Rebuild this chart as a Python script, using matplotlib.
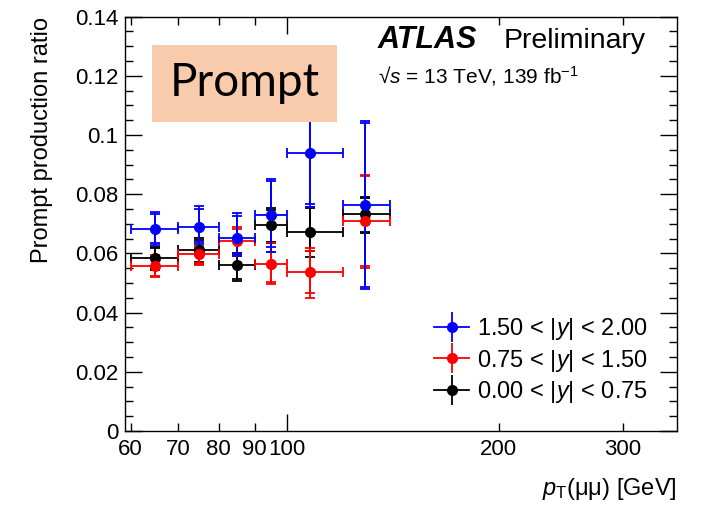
"""
plot.py
Prompt production ratio vs pT(mumu) for three rapidity slices (ATLAS style).
"""

import matplotlib
matplotlib.use("Agg")
import matplotlib.pyplot as plt
from matplotlib.lines import Line2D
from matplotlib.patches import Rectangle
from matplotlib.ticker import FixedLocator, FixedFormatter, MultipleLocator, FuncFormatter

plt.rcParams["font.family"] = ["Liberation Sans", "DejaVu Sans"]
plt.rcParams["mathtext.fontset"] = "custom"
plt.rcParams["mathtext.rm"] = "Liberation Sans"
plt.rcParams["mathtext.it"] = "Liberation Sans:italic"
plt.rcParams["mathtext.bf"] = "Liberation Sans:bold"

# pT bins (GeV)
bin_lo = [60, 70, 80, 90, 100, 120]
bin_hi = [70, 80, 90, 100, 120, 140]
bin_x  = [65, 75, 85, 95, 108, 129]

# 1.50 < |y| < 2.00
blue_val     = [0.0682, 0.0688, 0.0651, 0.0730, 0.0940, 0.0764]
blue_top     = [0.0739, 0.0761, 0.0737, 0.0853, 0.1120, 0.1047]
blue_bot     = [0.0628, 0.0632, 0.0590, 0.0606, 0.0756, 0.0479]
blue_top_in  = [0.0733, 0.0749, 0.0726, 0.0845, 0.1100, 0.1040]
blue_bot_in  = [0.0634, 0.0640, 0.0598, 0.0623, 0.0766, 0.0486]

# 0.75 < |y| < 1.50
red_val      = [0.0556, 0.0597, 0.0643, 0.0564, 0.0536, 0.0709]
red_top      = [0.0595, 0.0625, 0.0690, 0.0634, 0.0617, 0.0865]
red_bot      = [0.0519, 0.0562, 0.0590, 0.0497, 0.0448, 0.0551]
red_top_in   = [0.0590, 0.0620, 0.0684, 0.0606, 0.0609, 0.0860]
red_bot_in   = [0.0525, 0.0568, 0.0596, 0.0503, 0.0465, 0.0556]

# 0.00 < |y| < 0.75
black_val    = [0.0583, 0.0613, 0.0560, 0.0695, 0.0671, 0.0732]
black_top    = [0.0622, 0.0652, 0.0600, 0.0752, 0.0756, 0.0792]
black_bot    = [0.0545, 0.0565, 0.0507, 0.0634, 0.0589, 0.0668]
black_top_in = [0.0618, 0.0646, 0.0594, 0.0746, 0.0752, 0.0788]
black_bot_in = [0.0550, 0.0572, 0.0512, 0.0640, 0.0609, 0.0672]

x_ticks_minor = [60, 70, 80, 90, 200, 300]
x_labels_minor = ["60", "70", "80", "90", "200", "300"]

SERIES = [
    ("black", black_val, black_top, black_bot, black_top_in, black_bot_in,
     "0.00 < |$\\it{y}$| < 0.75"),
    ("red", red_val, red_top, red_bot, red_top_in, red_bot_in,
     "0.75 < |$\\it{y}$| < 1.50"),
    ("blue", blue_val, blue_top, blue_bot, blue_top_in, blue_bot_in,
     "1.50 < |$\\it{y}$| < 2.00"),
]

fig = plt.figure(figsize=(7.07, 5.05), dpi=100)
ax = fig.add_axes([0.1775, 0.1465, 0.7801, 0.8205])

xerr = [[c - lo for c, lo in zip(bin_x, bin_lo)],
        [hi - c for c, hi in zip(bin_x, bin_hi)]]

handles, labels = [], []
for col, val, top, bot, top_in, bot_in, lab in SERIES:
    yerr = [[v - b for v, b in zip(val, bot)], [t - v for v, t in zip(val, top)]]
    yerr_in = [[v - b for v, b in zip(val, bot_in)],
               [t - v for v, t in zip(val, top_in)]]
    ax.errorbar(bin_x, val, xerr=xerr, yerr=yerr, fmt="o", color=col,
                ms=7, lw=1.3, capsize=3.5, capthick=1.3)
    ax.errorbar(bin_x, val, yerr=yerr_in, fmt="none", ecolor=col,
                lw=1.3, capsize=3.5, capthick=1.3)
    # legend marker: cross of error lines without caps
    handles.insert(0, (Line2D([], [], color=col, lw=1.3),
                       Line2D([], [], color=col, marker="|", ms=21, mew=1.3, ls="none"),
                       Line2D([], [], color=col, marker="o", ms=7, ls="none")))
    labels.insert(0, lab)

ax.set_xscale("log")
ax.set_xlim(59, 358)
ax.set_ylim(0, 0.14)

ax.xaxis.set_major_locator(FixedLocator([100]))
ax.xaxis.set_major_formatter(FixedFormatter(["100"]))
ax.xaxis.set_minor_locator(FixedLocator(x_ticks_minor))
ax.xaxis.set_minor_formatter(FixedFormatter(x_labels_minor))
ax.yaxis.set_major_locator(MultipleLocator(0.02))
ax.yaxis.set_minor_locator(MultipleLocator(0.005))
ax.yaxis.set_major_formatter(FuncFormatter(lambda v, p: f"{v:g}"))

ax.tick_params(which="both", direction="in", top=True, right=True,
               labelsize=16, width=1)
ax.tick_params(which="major", length=12)
ax.tick_params(which="minor", length=6)
ax.tick_params(axis="x", which="both", pad=6)
ax.tick_params(axis="y", which="both", pad=5)
for s in ax.spines.values():
    s.set_linewidth(1)

ax.set_ylabel("Prompt production ratio", fontsize=17, loc="top", labelpad=16)
ax.set_xlabel("$\\it{p}_{\\rm T}$(\u03bc\u03bc) [GeV]", fontsize=17,
              loc="right", labelpad=11)

ax.legend(handles, labels, loc="lower right", bbox_to_anchor=(0.985, 0.012),
          frameon=False, fontsize=17, handlelength=1.5, handletextpad=0.3,
          labelspacing=0.22)

fig.text(0.534, 0.905, "ATLAS", fontsize=22, fontweight="bold",
         fontstyle="italic", ha="left", va="baseline")
fig.text(0.713, 0.905, "Preliminary", fontsize=20.5, ha="left", va="baseline")
fig.text(0.534, 0.836, "\u221a$\\it{s}$ = 13 TeV, 139 fb$^{-1}$",
         fontsize=15, ha="left", va="baseline")

# pasted "Prompt" label box
fig.patches.append(Rectangle((0.215, 0.7584), 0.2617, 0.1525,
                             transform=fig.transFigure, facecolor="#f8cbad",
                             edgecolor="none", zorder=5))
fig.text(0.3458, 0.8347, "Prompt", fontsize=33, family="Lato",
         ha="center", va="center", zorder=6)

fig.savefig("out.png", dpi=100)
